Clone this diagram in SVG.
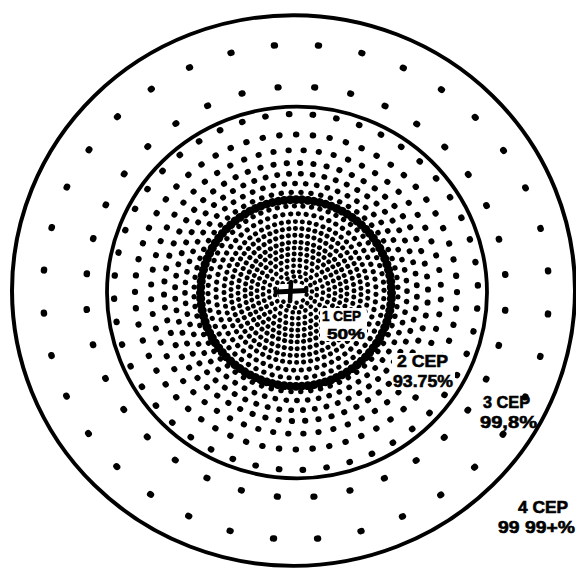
<svg xmlns="http://www.w3.org/2000/svg" width="576" height="569" viewBox="0 0 576 569">
<style>
.bg{fill:#fff}
.ring{fill:none;stroke:#000}
.dots{fill:none;stroke:#000;stroke-linecap:round;stroke-dasharray:0.02 0.98}
.lbl{font-family:"Liberation Sans",Arial,sans-serif;font-weight:bold;font-size:17px;fill:#000;stroke:#000;stroke-width:0.6}
.sm{font-size:15px}
.clear{fill:#fff}
</style>
<rect class="bg" x="0" y="0" width="576" height="569"/>
<g transform="translate(296 292) scale(1 0.978)">
  <g id="zone-4cep">
    <circle class="ring" cx="-2.5" cy="-1.5" r="281.5" stroke-width="4"/>
    <circle class="dots" r="253" pathLength="36" stroke-dashoffset="0.5" stroke-width="6.5"/>
    <circle class="dots" r="210" pathLength="36" stroke-dashoffset="0.5" stroke-width="6.5"/>
  </g>
  <g id="zone-3cep">
    <circle class="ring" cx="1" cy="0.5" r="190" stroke-width="3.8"/>
    <circle class="dots" r="182" pathLength="48" stroke-dashoffset="0.3" stroke-width="6.3"/>
    <circle class="dots" r="161" pathLength="60" stroke-dashoffset="0" stroke-width="6.2"/>
    <circle class="dots" r="145" pathLength="60" stroke-dashoffset="0.5" stroke-width="6"/>
    <circle class="dots" r="132" pathLength="62" stroke-dashoffset="0.2" stroke-width="6"/>
    <circle class="dots" r="121" pathLength="64" stroke-dashoffset="0.6" stroke-width="5.8"/>
    <circle class="dots" r="111" pathLength="64" stroke-dashoffset="0.1" stroke-width="5.6"/>
    <circle class="dots" r="102" pathLength="64" stroke-dashoffset="0.5" stroke-width="5.4"/>
  </g>
  <g id="zone-2cep">
    <circle class="dots" r="88" pathLength="64" stroke-dashoffset="0.2" stroke-width="5.2"/>
    <circle class="dots" r="80" pathLength="64" stroke-dashoffset="0.7" stroke-width="5.2"/>
    <circle class="dots" r="72" pathLength="64" stroke-dashoffset="0.1" stroke-width="5"/>
    <circle class="dots" r="65" pathLength="62" stroke-dashoffset="0.6" stroke-width="5"/>
    <circle class="dots" r="58" pathLength="56" stroke-dashoffset="0.2" stroke-width="5"/>
    <circle class="dots" r="51" pathLength="50" stroke-dashoffset="0.7" stroke-width="5"/>
    <circle class="dots" r="45" pathLength="44" stroke-dashoffset="0.3" stroke-width="4.8"/>
    <circle class="dots" r="39" pathLength="38" stroke-dashoffset="0.8" stroke-width="4.8"/>
    <circle class="dots" r="33" pathLength="32" stroke-dashoffset="0.4" stroke-width="4.8"/>
    <circle class="dots" r="27" pathLength="26" stroke-dashoffset="0.9" stroke-width="4.6"/>
    <circle class="dots" r="21" pathLength="20" stroke-dashoffset="0.5" stroke-width="4.6"/>
    <circle class="dots" r="16" pathLength="15" stroke-dashoffset="0.1" stroke-width="4.6"/>
    <circle class="dots" r="11" pathLength="10" stroke-dashoffset="0.6" stroke-width="4.4"/>
  </g>
</g>
<rect class="clear" x="320" y="308" width="47" height="33" rx="4"/>
<rect class="clear" x="392" y="353" width="63" height="37" rx="4"/>
<rect class="clear" x="279" y="284" width="24" height="15" rx="3"/>
<g transform="translate(296 292) scale(1 0.978)">
  <g id="zone-2cep-boundary">
    <circle class="ring" cx="0" cy="1" r="95.5" stroke-width="5.2"/>
    <circle class="dots" cx="0" cy="1" r="95.5" pathLength="100" stroke-width="9"/>
  </g>
</g>
<g id="center-mark" stroke="#000" stroke-linecap="round">
  <line x1="276" y1="292" x2="306" y2="290.5" stroke-width="5"/>
  <line x1="291" y1="282" x2="290" y2="301" stroke-width="4.5"/>
</g>
<g id="labels">
  <text class="lbl sm" x="322" y="321" textLength="39" lengthAdjust="spacingAndGlyphs">1 CEP</text>
  <text class="lbl sm" x="327" y="338.5" textLength="38" lengthAdjust="spacingAndGlyphs">50%</text>
  <text class="lbl" x="397" y="367" textLength="51" lengthAdjust="spacingAndGlyphs">2 CEP</text>
  <text class="lbl" x="393" y="387" textLength="60" lengthAdjust="spacingAndGlyphs">93.75%</text>
  <text class="lbl" x="483" y="408" textLength="47" lengthAdjust="spacingAndGlyphs">3 CEP</text>
  <text class="lbl" x="480" y="428" textLength="57" lengthAdjust="spacingAndGlyphs">99,8%</text>
  <text class="lbl" x="518" y="513" textLength="50" lengthAdjust="spacingAndGlyphs">4 CEP</text>
  <text class="lbl" x="498" y="533" textLength="77" lengthAdjust="spacingAndGlyphs">99 99+%</text>
</g>
</svg>
